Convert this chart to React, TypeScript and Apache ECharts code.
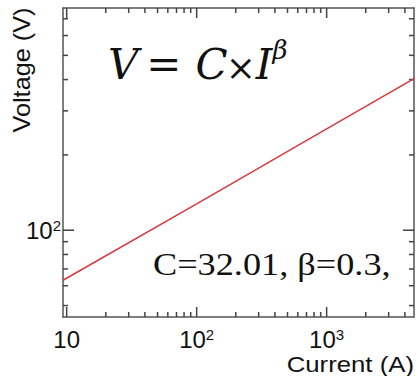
import React, { useEffect, useRef } from "react";
import * as echarts from "echarts";

// Data
const currents = [9.37, 100, 1000, 4700];
const voltages = [63.1, 127.4, 254.3, 403.6];
const xMajorValues = [10, 100, 1000];
const xMajorLabels = ["{b|10}", "{b|10}{s|2}", "{b|10}{s|3}"];
const yMajorValues = [100];
const yMajorLabels = ["{b|10}{s|2}"];
const xMinorTicks = [20, 30, 40, 50, 60, 70, 80, 90, 200, 300, 400, 500, 600, 700, 800, 900, 2000, 3000, 4000];
const yMinorTicks = [50, 60, 70, 80, 90, 200, 300, 400, 500, 600, 700];
const xRange = [9.37, 4700];
const yRange = [45, 773];
const fitC = "32.01";
const fitBeta = "0.3";

const AXIS_COLOR = "#555";
const TICK_COLOR = "#444";
const TEXT_COLOR = "#111";
const SANS = "'Liberation Sans', Arial, sans-serif";

function labelFor(values: number[], labels: string[]) {
  return (v: number) => {
    for (let i = 0; i < values.length; i++) {
      if (Math.abs(Math.log10(v) - Math.log10(values[i])) < 1e-6) return labels[i];
    }
    return "";
  };
}

const rich = {
  b: { fontSize: 24, fontFamily: SANS, color: TEXT_COLOR },
  s: { fontSize: 15, fontFamily: SANS, color: TEXT_COLOR, verticalAlign: "top" },
};

export default function App() {
  const ref = useRef<HTMLDivElement>(null);
  useEffect(() => {
    if (!ref.current) return;
    const chart = echarts.init(ref.current, null, { renderer: "svg" });
    const lineData = currents.map((c, i) => [c, voltages[i]]);
    // [x, y, kind(0 = x tick, 1 = y tick), length]
    const tickData = [
      ...xMajorValues.map((v) => [v, 100, 0, 10]),
      ...xMinorTicks.map((v) => [v, 100, 0, 5]),
      ...yMajorValues.map((v) => [100, v, 1, 11]),
      ...yMinorTicks.map((v) => [100, v, 1, 5]),
    ];
    const baseX = {
      type: "log",
      logBase: 10,
      min: xRange[0],
      max: xRange[1],
      axisLine: { show: true, lineStyle: { color: AXIS_COLOR, width: 1.5 } },
      axisTick: { show: false },
      splitLine: { show: false },
    };
    const baseY = {
      type: "log",
      logBase: 10,
      min: yRange[0],
      max: yRange[1],
      axisLine: { show: true, lineStyle: { color: AXIS_COLOR, width: 1.5 } },
      axisTick: { show: false },
      splitLine: { show: false },
    };
    const ln = (x1: number, y1: number, x2: number, y2: number) => ({
      type: "line",
      shape: { x1, y1, x2, y2 },
      style: { stroke: TICK_COLOR, lineWidth: 1.5 },
    });
    chart.setOption({
      animation: false,
      grid: { left: 63, right: 4, top: 8, bottom: 59, containLabel: false },
      xAxis: [
        {
          ...baseX,
          position: "bottom",
          axisLabel: {
            show: true,
            interval: 0,
            margin: 10,
            formatter: labelFor(xMajorValues, xMajorLabels),
            rich,
          },
        },
        { ...baseX, position: "top", axisLabel: { show: false } },
      ],
      yAxis: [
        {
          ...baseY,
          position: "left",
          axisLabel: {
            show: true,
            interval: 0,
            margin: 2,
            formatter: labelFor(yMajorValues, yMajorLabels),
            rich,
          },
        },
        { ...baseY, position: "right", axisLabel: { show: false } },
      ],
      series: [
        {
          type: "line",
          data: lineData,
          showSymbol: false,
          lineStyle: { color: "#d8393c", width: 1.5 },
          itemStyle: { color: "#d8393c" },
          xAxisIndex: 0,
          yAxisIndex: 0,
        },
        {
          type: "custom",
          xAxisIndex: 0,
          yAxisIndex: 0,
          silent: true,
          data: tickData,
          renderItem: (params: any, api: any) => {
            const cs = params.coordSys;
            const kind = api.value(2);
            const len = api.value(3);
            if (kind === 0) {
              const px = api.coord([api.value(0), 100])[0];
              const b = cs.y + cs.height;
              const t = cs.y;
              return { type: "group", children: [ln(px, b, px, b - len), ln(px, t, px, t + len)] };
            }
            const py = api.coord([100, api.value(1)])[1];
            const l = cs.x;
            const r = cs.x + cs.width;
            return { type: "group", children: [ln(l, py, l + len, py), ln(r, py, r - len, py)] };
          },
        },
      ],
      graphic: [
        {
          type: "text",
          x: 22,
          y: 70,
          rotation: Math.PI / 2,
          scaleX: 1.1,
          style: { text: "Voltage (V)", font: `23px ${SANS}`, fill: TEXT_COLOR, align: "center", verticalAlign: "middle" },
        },
        {
          type: "text",
          x: 414,
          y: 364,
          scaleX: 1.12,
          style: { text: "Current (A)", font: `23px ${SANS}`, fill: TEXT_COLOR, align: "right", verticalAlign: "middle" },
        },
        {
          type: "text",
          x: 108,
          y: 61,
          style: {
            text: "{i|V}{r|=}{i|C}{x|×}{i|I}{s|β}",
            fill: TEXT_COLOR,
            align: "left",
            verticalAlign: "middle",
            rich: {
              i: { font: `italic 42px 'DejaVu Serif', serif`, fill: TEXT_COLOR, verticalAlign: "bottom", lineHeight: 48 },
              r: { font: `42px 'DejaVu Serif', serif`, fill: TEXT_COLOR, verticalAlign: "bottom", lineHeight: 48, padding: [0, 14, 0, 8] },
              x: { font: `36px 'DejaVu Serif', serif`, fill: TEXT_COLOR, verticalAlign: "bottom", lineHeight: 46, padding: [0, 0, 0, -2] },
              s: { font: `italic 26px 'DejaVu Serif', serif`, fill: TEXT_COLOR, verticalAlign: "top", lineHeight: 30 },
            },
          },
        },
        {
          type: "text",
          x: 153,
          y: 264,
          scaleX: 1.17,
          style: {
            text: `C=${fitC}, β=${fitBeta},`,
            font: `31px 'Liberation Serif', 'Times New Roman', serif`,
            fill: TEXT_COLOR,
            align: "left",
            verticalAlign: "middle",
          },
        },
      ],
    });
    return () => chart.dispose();
  }, []);
  return (
    <div
      ref={ref}
      style={{ position: "absolute", left: 0, top: 0, width: 418, height: 376, background: "#fff" }}
    />
  );
}
